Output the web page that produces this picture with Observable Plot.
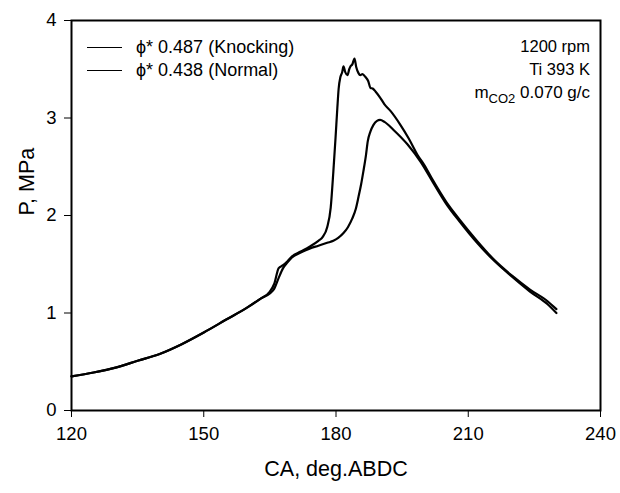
<!DOCTYPE html>
<html><head><meta charset="utf-8">
<script src="https://cdn.jsdelivr.net/npm/d3@7"></script>
<script src="https://cdn.jsdelivr.net/npm/@observablehq/plot@0.6"></script>
<style>
body{margin:0;background:#fff;font-family:"Liberation Sans",Arial,sans-serif;}
#wrap{position:relative;width:620px;height:493px;}
.ov{position:absolute;font-size:16.5px;color:#000;white-space:nowrap;line-height:1;}
.lg{position:absolute;height:0;border-top:1.6px solid #000;width:35px;}
</style></head>
<body><div id="wrap"></div>
<script>
const caKnock = [120,125,130,135,140,145,150,155,160,163,165,166,167,168,169,170,172,174,176,177,178,178.8,179.4,179.9,180.3,180.6,181,181.4,181.7,182.1,182.6,183,183.3,183.7,184.2,184.6,185.1,185.5,186,186.7,187.3,187.8,188.4,189,190,191,192.4,194.6,196.5,198.5,200,202,205,208,212,216,220,224,228,230];
const pKnock = [0.35,0.39,0.44,0.51,0.58,0.68,0.80,0.93,1.06,1.15,1.22,1.30,1.46,1.49,1.53,1.58,1.63,1.68,1.74,1.78,1.88,2.08,2.45,2.80,3.10,3.30,3.42,3.47,3.53,3.47,3.44,3.50,3.53,3.55,3.61,3.52,3.46,3.44,3.45,3.42,3.38,3.31,3.30,3.27,3.21,3.14,3.07,2.93,2.79,2.62,2.52,2.36,2.14,1.96,1.74,1.54,1.38,1.24,1.12,1.04];
const caNormal = [120,125,130,135,140,145,150,155,160,163,165,166,167,168,169,170,172,174,176,178,179.4,180.5,181.7,182.7,183.7,184.5,185.1,185.7,186.2,186.8,187.2,187.8,188.5,189.3,190,191,193,196.2,199.2,202,205,208,212,216,220,224,228,230];
const pNormal = [0.35,0.39,0.44,0.51,0.58,0.68,0.80,0.93,1.06,1.15,1.20,1.25,1.36,1.46,1.52,1.57,1.62,1.66,1.69,1.72,1.74,1.77,1.82,1.88,1.97,2.07,2.19,2.32,2.45,2.62,2.76,2.86,2.93,2.97,2.98,2.96,2.88,2.73,2.55,2.34,2.12,1.94,1.72,1.53,1.37,1.22,1.09,1.00];
const xTicks = [120,150,180,210,240];
const yTicks = [0,1,2,3,4];
const seriesNames = ["\u03d5* 0.487 (Knocking)", "\u03d5* 0.438 (Normal)"];
const notes = ["1200 rpm", "Ti 393 K"];

const knock = caKnock.map((c,i)=>({ca:c,p:pKnock[i]}));
const normal = caNormal.map((c,i)=>({ca:c,p:pNormal[i]}));

const chart = Plot.plot({
  width:620, height:493,
  marginLeft:71, marginRight:20, marginTop:20, marginBottom:83,
  style:{fontFamily:"Liberation Sans, Arial, sans-serif", background:"#fff", color:"#000"},
  x:{domain:[120,240]},
  y:{domain:[0,4]},
  marks:[
    Plot.axisX({ticks:xTicks, tickSize:7, tickPadding:9, fontSize:18.5, label:null, tickFormat:d=>d}),
    Plot.axisY({ticks:yTicks, tickSize:7, tickPadding:8, fontSize:18.5, label:null, tickFormat:d=>d}),
    Plot.line(normal,{x:"ca",y:"p",stroke:"#000",strokeWidth:2.2,curve:"monotone-x"}),
    Plot.line(knock,{x:"ca",y:"p",stroke:"#000",strokeWidth:2.2,curve:"monotone-x"}),
    Plot.frame({stroke:"#000",strokeWidth:2}),
    Plot.text(["CA, deg.ABDC"],{frameAnchor:"bottom",text:d=>d,dy:65,fontSize:21.5}),
    Plot.text(["P, MPa"],{frameAnchor:"left",text:d=>d,dx:-44,rotate:-90,fontSize:21.5})
  ]
});
const wrap = document.getElementById("wrap");
wrap.appendChild(chart);
function add(html, css, cls="ov"){const d=document.createElement("div");d.className=cls;d.innerHTML=html;Object.assign(d.style,css);wrap.appendChild(d);}
add("",{left:"87px",top:"47px"},"lg");
add("",{left:"87px",top:"70px"},"lg");
add(seriesNames[0],{left:"136px",top:"38px",fontSize:"18px"});
add(seriesNames[1],{left:"136px",top:"61px",fontSize:"18px"});
add(notes[0],{right:"30px",top:"38px"});
add(notes[1],{right:"30px",top:"61px"});
add("m<sub style='font-size:13px;vertical-align:-5px'>CO2</sub> 0.070 g/c",{right:"30px",top:"84px",fontSize:"17px"});
</script></body></html>
